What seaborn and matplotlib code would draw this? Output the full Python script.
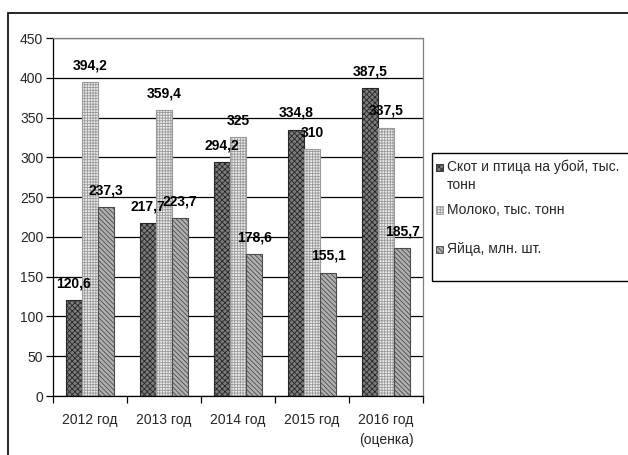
import matplotlib
matplotlib.use("Agg")
import matplotlib.pyplot as plt
from matplotlib.patches import Rectangle
import seaborn as sns
import pandas as pd

years = ["2012 год", "2013 год", "2014 год", "2015 год", "2016 год\n(оценка)"]
series_names = ["Скот и птица на убой, тыс.\nтонн", "Молоко, тыс. тонн", "Яйца, млн. шт."]
livestock = [120.6, 217.7, 294.2, 334.8, 387.5]
milk = [394.2, 359.4, 325.0, 310.0, 337.5]
eggs = [237.3, 223.7, 178.6, 155.1, 185.7]
y_ticks = [0, 50, 100, 150, 200, 250, 300, 350, 400, 450]

df = pd.DataFrame({
    "year": years * 3,
    "series": [series_names[0]] * 5 + [series_names[1]] * 5 + [series_names[2]] * 5,
    "value": livestock + milk + eggs,
})

sns.set_theme(style="white")
plt.rcParams["font.family"] = ["Liberation Sans", "DejaVu Sans"]
plt.rcParams["hatch.linewidth"] = 0.6

faces = ["#7c7c7c", "#ececec", "#b0b0b0"]
edges = ["#262626", "#9a9a9a", "#4a4a4a"]
hatches = ["xxxxxx", "++++++", "\\\\\\\\\\\\\\"]

fig = plt.figure(figsize=(6.28, 4.55), dpi=100)
ax = fig.add_axes([53 / 628, 1 - 396 / 455, 370 / 628, 358 / 455])

sns.barplot(data=df, x="year", y="value", hue="series", hue_order=series_names,
            order=years, palette=faces, width=0.66, gap=0, ax=ax,
            saturation=1, legend=False, linewidth=0.8)

for i, cont in enumerate(ax.containers):
    for p in cont.patches:
        p.set_hatch(hatches[i])
        p.set_edgecolor(edges[i])
        p.set_linewidth(0.8)
    labels = [f"{v:g}".replace(".", ",") for v in cont.datavalues]
    ax.bar_label(cont, labels=labels, padding=7, fontsize=10, fontweight="bold",
                 color="black")

ax.set_ylim(0, 450)
ax.set_xlim(-0.5, 4.5)
ax.set_yticks(y_ticks)
ax.set_yticklabels([str(t) for t in y_ticks], fontsize=10)
ax.yaxis.grid(True, color="black", linewidth=0.9)
ax.set_axisbelow(True)

# category boundaries get tick marks, centres get the labels
ax.set_xticks([-0.5, 0.5, 1.5, 2.5, 3.5, 4.5])
ax.set_xticklabels([])
ax.set_xticks(range(len(years)), minor=True)
ax.set_xticklabels(years, minor=True, fontsize=10, linespacing=1.6)
ax.tick_params(axis="x", which="major", length=5, width=0.9, color="black", direction="out", bottom=True)
ax.tick_params(axis="x", which="minor", length=0, pad=12)
ax.tick_params(axis="y", length=5, width=0.9, color="black", direction="out", left=True, pad=2)
ax.set_xlabel("")
ax.set_ylabel("")

for s in ["left", "bottom"]:
    ax.spines[s].set_color("black")
    ax.spines[s].set_linewidth(0.9)
for s in ["top", "right"]:
    ax.spines[s].set_color("#808080")
    ax.spines[s].set_linewidth(0.9)

# outer chart frame
fig.patches.append(Rectangle((8 / 628, -0.05), 1.1, 1 - 13 / 455 + 0.05,
                             transform=fig.transFigure, fill=False,
                             edgecolor="black", linewidth=1.2))

# legend box
fig.patches.append(Rectangle((432 / 628, 1 - 281 / 455), 0.5, 128 / 455,
                             transform=fig.transFigure, fill=False,
                             edgecolor="black", linewidth=1.0))
entry_y = [167, 210, 249]
for i, yy in enumerate(entry_y):
    fig.patches.append(Rectangle((436 / 628, 1 - (yy + 3.5) / 455), 7 / 628, 7 / 455,
                                 transform=fig.transFigure, facecolor=faces[i],
                                 edgecolor=edges[i], hatch=hatches[i], linewidth=0.6))
    fig.text(447 / 628, 1 - (yy - 7.5) / 455, series_names[i], fontsize=10,
             va="top", ha="left", linespacing=1.35)

fig.savefig("out.png", dpi=100, facecolor="white")
